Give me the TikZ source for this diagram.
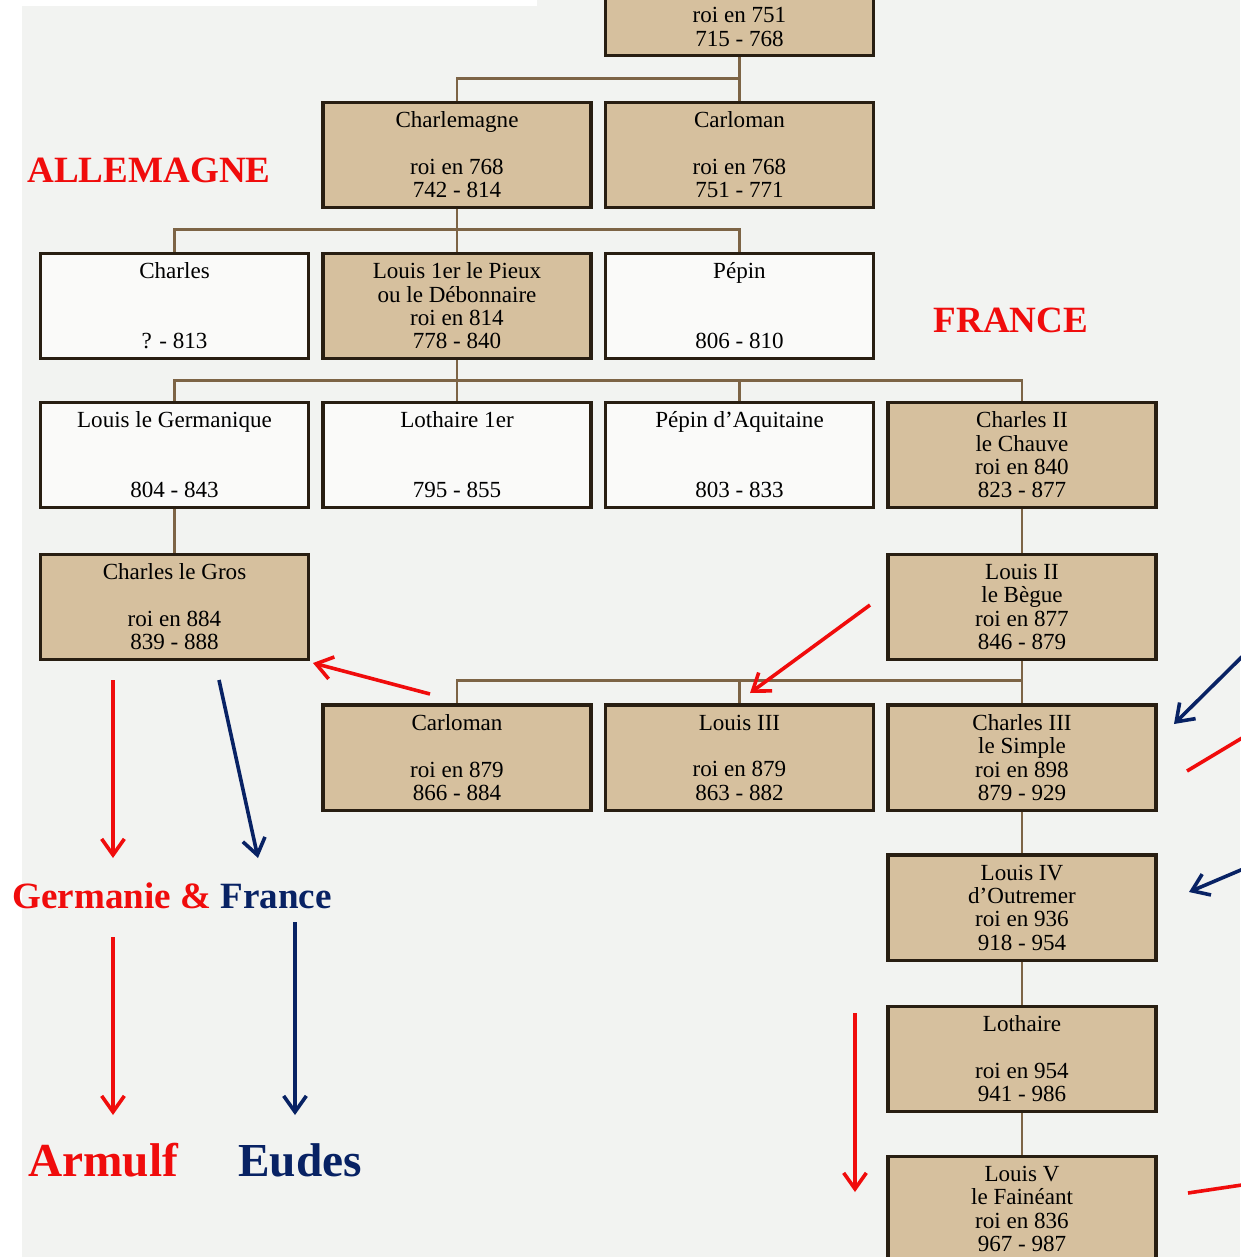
\documentclass[tikz,border=0pt]{standalone}
\usepackage{fontspec}
\setmainfont{Liberation Serif}
\usetikzlibrary{arrows.meta}
\definecolor{fond}{RGB}{242,243,241}
\definecolor{beige}{RGB}{214,192,158}
\definecolor{bord}{RGB}{40,30,18}
\definecolor{trait}{RGB}{125,100,70}
\definecolor{rouge}{RGB}{240,12,12}
\definecolor{bleu}{RGB}{8,34,100}
\begin{document}
\begin{tikzpicture}[x=0.75pt, y=-0.75pt, >={Straight Barb[length=12pt, width=17pt]}]
        \tikzstyle{box} = [draw=bord, line width=2.5pt, minimum width=201pt, minimum height=79pt, align=center, inner sep=0pt, font=\fontsize{17.3}{17.5}\selectfont]
        \tikzstyle{roi} = [box, fill=beige]
        \tikzstyle{fils} = [box, fill=white!60!fond]
        \tikzstyle{lien} = [draw=trait, line width=2pt]
        \tikzstyle{rflech} = [->, draw=rouge, line width=2.7pt]
        \tikzstyle{bflech} = [->, draw=bleu, line width=2.7pt]
        \tikzstyle{titre} = [font=\bfseries\fontsize{27.8}{30}\selectfont, text=rouge, inner sep=0pt]
        \tikzstyle{grand} = [font=\bfseries\fontsize{35.5}{40}\selectfont, inner sep=0pt]
        \useasboundingbox (0,0) rectangle (1240,1257);
        \fill[white] (0,0) rectangle (1240,1257);
        \fill[fond] (22,0) rectangle (1240,1257);
        \fill[white] (0,0) rectangle (537,6);
        \node[roi] (PB) at (739.5,3) {\strut\\\strut\\roi en 751\\715 - 768};
        \node[roi] (CM) at (457,155) {Charlemagne\\\strut\\roi en 768\\742 - 814};
        \node[roi] (CA) at (739.5,155) {Carloman\\\strut\\roi en 768\\751 - 771};
        \node[fils] (CH) at (174.5,306) {Charles\\\strut\\\strut\\? - 813};
        \node[roi] (LP) at (457,306) {Louis 1er le Pieux\\ou le Débonnaire\\roi en 814\\778 - 840};
        \node[fils] (PE) at (739.5,306) {Pépin\\\strut\\\strut\\806 - 810};
        \node[fils] (LG) at (174.5,455) {Louis le Germanique\\\strut\\\strut\\804 - 843};
        \node[fils] (L1) at (457,455) {Lothaire 1er\\\strut\\\strut\\795 - 855};
        \node[fils] (PA) at (739.5,455) {Pépin d'Aquitaine\\\strut\\\strut\\803 - 833};
        \node[roi] (C2) at (1022,455) {Charles II\\le Chauve\\roi en 840\\823 - 877};
        \node[roi] (CG) at (174.5,607) {Charles le Gros\\\strut\\roi en 884\\839 - 888};
        \node[roi] (L2) at (1022,607) {Louis II\\le Bègue\\roi en 877\\846 - 879};
        \node[roi] (CN) at (457,757.5) {Carloman\\\strut\\roi en 879\\866 - 884};
        \node[roi] (L3) at (739.5,757.5) {Louis III\\\strut\\roi en 879\\863 - 882};
        \node[roi] (C3) at (1022,757.5) {Charles III\\le Simple\\roi en 898\\879 - 929};
        \node[roi] (L4) at (1022,907.5) {Louis IV\\d'Outremer\\roi en 936\\918 - 954};
        \node[roi] (LO) at (1022,1059) {Lothaire\\\strut\\roi en 954\\941 - 986};
        \node[roi] (L5) at (1022,1209) {Louis V\\le Fainéant\\roi en 836\\967 - 987};
        \draw[lien] (PB) -- (CA);
        \draw[lien] (CM.north) -- ++(0,-22) -| (CA.north);
        \draw[lien] (CM) -- (LP);
        \draw[lien] (CH.north) -- ++(0,-22) -| (PE.north);
        \draw[lien] (LP) -- (L1);
        \draw[lien] (LG.north) -- ++(0,-20) -| (C2.north);
        \draw[lien] (PA.north) -- ++(0,-20);
        \draw[lien] (LG) -- (CG);
        \draw[lien] (C2) -- (L2);
        \draw[lien] (L2) -- (C3);
        \draw[lien] (CN.north) -- ++(0,-23) -| (C3.north);
        \draw[lien] (L3.north) -- ++(0,-23);
        \draw[lien] (C3) -- (L4);
        \draw[lien] (L4) -- (LO);
        \draw[lien] (LO) -- (L5);
        \node[titre] (AL) at (149,170) {ALLEMAGNE};
        \node[titre] (FR) at (1011,320) {FRANCE};
        \node[titre] (GF) at (172,896) {Germanie \& \textcolor{bleu}{France}};
        \node[grand, text=rouge] (AR) at (103,1160) {Armulf};
        \node[grand, text=bleu] (EU) at (300,1160) {Eudes};
        \coordinate (r1) at (430,694);
        \coordinate (r1e) at (313,663);
        \coordinate (r2) at (870,605);
        \coordinate (r2e) at (750,693);
        \coordinate (r3) at (113,680);
        \coordinate (r3e) at (113,858);
        \coordinate (b1) at (219,680);
        \coordinate (b1e) at (258,858);
        \coordinate (r4) at (113,937);
        \coordinate (r4e) at (113,1115);
        \coordinate (b2) at (295,922);
        \coordinate (b2e) at (295,1115);
        \coordinate (r5) at (855,1013);
        \coordinate (r5e) at (855,1192);
        \coordinate (b3) at (1262,637);
        \coordinate (b3e) at (1174,724);
        \coordinate (r6) at (1187,771);
        \coordinate (r6e) at (1262,726);
        \coordinate (b4) at (1262,861);
        \coordinate (b4e) at (1189,892);
        \coordinate (r7) at (1188,1193);
        \coordinate (r7e) at (1262,1182);
        \draw[rflech] (r1) -- (r1e);
        \draw[rflech] (r2) -- (r2e);
        \draw[rflech] (r3) -- (r3e);
        \draw[bflech] (b1) -- (b1e);
        \draw[rflech] (r4) -- (r4e);
        \draw[bflech] (b2) -- (b2e);
        \draw[rflech] (r5) -- (r5e);
        \draw[bflech] (b3) -- (b3e);
        \draw[rflech, -] (r6) -- (r6e);
        \draw[bflech] (b4) -- (b4e);
        \draw[rflech, -] (r7) -- (r7e);
\end{tikzpicture}
\end{document}
